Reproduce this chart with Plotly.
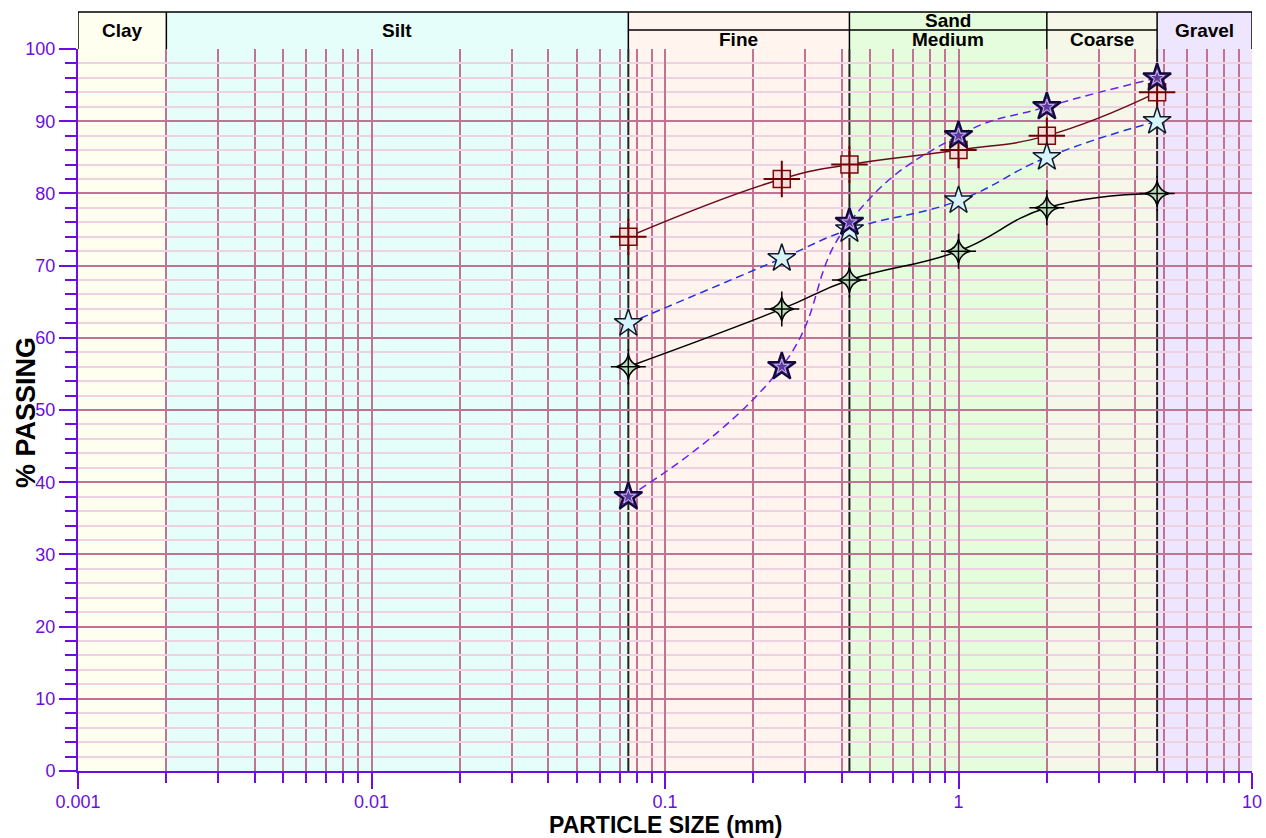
import math
import plotly.graph_objects as go

# ---------------- data ----------------
sizes_mm = [0.075, 0.25, 0.425, 1.0, 2.0, 4.75]
passing_square = [74, 82, 84, 86, 88, 94]
passing_light_star = [62, 71, 75, 79, 85, 90]
passing_dark_star = [38, 56, 76, 88, 92, 96]
passing_four_star = [56, 64, 68, 72, 78, 80]

# soil classification bands (mm)
band_names = ["Clay", "Silt", "Fine", "Medium", "Coarse", "Gravel"]
band_edges = [0.001, 0.002, 0.075, 0.425, 2.0, 4.75, 10.0]
band_colors = ["#FFFFF0", "#E6FEFA", "#FFF4EE", "#E5FDDD", "#F5F8E8", "#EEE5FF"]
sieve_lines = [0.075, 0.425, 4.75]

y_ticks = [0, 10, 20, 30, 40, 50, 60, 70, 80, 90, 100]
x_ticks = [0.001, 0.01, 0.1, 1, 10]
x_tick_text = ["0.001", "0.01", "0.1", "1", "10"]

# ---------------- styling ----------------
PURPLE = "#6A0FE0"
GRID_MAJOR = "#C27394"
GRID_MINOR = "#EFD2E2"
FONT = "Liberation Sans, Arial, sans-serif"
SMOOTH = 1.3

PLOT_H = 838 - 49 - 67
PLOT_W = 1266 - 78 - 14
H_TOP = 1.0 + 37 / PLOT_H   # header top (paper)
H_MID = 1.0 + 19 / PLOT_H   # sand sub-row divider (paper)

fig = go.Figure()

# series 1: squares with cross
fig.add_trace(go.Scatter(
    x=sizes_mm, y=passing_square, mode="lines",
    line=dict(color="#6E0A1E", width=1.5, shape="spline", smoothing=SMOOTH), hoverinfo="skip"))
fig.add_trace(go.Scatter(
    x=sizes_mm, y=passing_square, mode="markers",
    marker=dict(symbol="square", size=17, color="#F7DADA",
                line=dict(color="#7A0A0A", width=1.5))))
fig.add_trace(go.Scatter(
    x=sizes_mm, y=passing_square, mode="markers",
    marker=dict(symbol="cross-thin-open", size=26, color="#700000",
                line=dict(color="#700000", width=2))))

# series 2: light stars, blue dashed
fig.add_trace(go.Scatter(
    x=sizes_mm, y=passing_light_star, mode="lines",
    line=dict(color="#2233E6", width=1.5, shape="spline", smoothing=SMOOTH, dash="8px,5px"),
    hoverinfo="skip"))
fig.add_trace(go.Scatter(
    x=sizes_mm, y=passing_light_star, mode="markers",
    marker=dict(symbol="star", size=21, color="#D6F4FA",
                line=dict(color="#0E1A2A", width=1.5))))

# series 3: dark stars, purple dashed
fig.add_trace(go.Scatter(
    x=sizes_mm, y=passing_dark_star, mode="lines",
    line=dict(color="#6A1FF0", width=1.5, shape="spline", smoothing=SMOOTH, dash="8px,5px"),
    hoverinfo="skip"))
fig.add_trace(go.Scatter(
    x=sizes_mm, y=passing_dark_star, mode="markers",
    marker=dict(symbol="star", size=21, color="#5A3C9C",
                line=dict(color="#120A3A", width=2.2))))
fig.add_trace(go.Scatter(
    x=sizes_mm, y=passing_dark_star, mode="markers",
    marker=dict(symbol="star-open", size=11, color="#D8B8F0",
                line=dict(color="#D8B8F0", width=1))))

# series 4: four-point stars, black solid
fig.add_trace(go.Scatter(
    x=sizes_mm, y=passing_four_star, mode="lines",
    line=dict(color="#000000", width=1.5, shape="spline", smoothing=SMOOTH), hoverinfo="skip"))
fig.add_trace(go.Scatter(
    x=sizes_mm, y=passing_four_star, mode="markers",
    marker=dict(symbol="star-diamond", size=17, color="#BEDDBE",
                line=dict(color="#000000", width=1.5))))
fig.add_trace(go.Scatter(
    x=sizes_mm, y=passing_four_star, mode="markers",
    marker=dict(symbol="cross-thin-open", size=25, color="#000000",
                line=dict(color="#000000", width=1.5))))

for tr in fig.data:
    tr.update(showlegend=False, cliponaxis=False)

shapes = []
# band fills (plot area + header)
for i, c in enumerate(band_colors):
    shapes.append(dict(type="rect", xref="x", yref="paper",
                       x0=band_edges[i], x1=band_edges[i + 1], y0=0, y1=H_TOP,
                       fillcolor=c, line=dict(width=0), layer="below"))
# sieve boundary lines in plot
for s in sieve_lines:
    shapes.append(dict(type="line", xref="x", yref="paper", x0=s, x1=s, y0=0, y1=1,
                       line=dict(color="#222222", width=2), layer="between"))
# header frame
shapes.append(dict(type="line", xref="x", yref="paper", x0=band_edges[0], x1=band_edges[-1],
                   y0=H_TOP, y1=H_TOP, line=dict(color="black", width=1.5), layer="above"))
shapes.append(dict(type="line", xref="x", yref="paper", x0=band_edges[2], x1=band_edges[5],
                   y0=H_MID, y1=H_MID, line=dict(color="black", width=1.5), layer="above"))
for e in band_edges:
    shapes.append(dict(type="line", xref="x", yref="paper", x0=e, x1=e,
                       y0=1.0, y1=H_TOP, line=dict(color="black", width=1.5), layer="above"))

annotations = []
def center_log(a, b):
    return (math.log10(a) + math.log10(b)) / 2

hdr_font = dict(family=FONT, size=19, color="black")
for name, a, b in [("Clay", band_edges[0], band_edges[1]),
                   ("Silt", band_edges[1], band_edges[2]),
                   ("Gravel", band_edges[5], band_edges[6])]:
    annotations.append(dict(x=center_log(a, b), y=(1.0 + H_TOP) / 2, xref="x", yref="paper",
                            text=f"<b>{name}</b>", showarrow=False, font=hdr_font,
                            xanchor="center", yanchor="middle"))
for name, a, b in [("Fine", band_edges[2], band_edges[3]),
                   ("Medium", band_edges[3], band_edges[4]),
                   ("Coarse", band_edges[4], band_edges[5])]:
    annotations.append(dict(x=center_log(a, b), y=(1.0 + H_MID) / 2, xref="x", yref="paper",
                            text=f"<b>{name}</b>", showarrow=False, font=hdr_font,
                            xanchor="center", yanchor="middle"))
annotations.append(dict(x=center_log(band_edges[3], band_edges[4]), y=(H_MID + H_TOP) / 2,
                        xref="x", yref="paper", text="<b>Sand</b>", showarrow=False,
                        font=hdr_font, xanchor="center", yanchor="middle"))

# axis titles
annotations.append(dict(x=0.5, y=-54 / PLOT_H, xref="paper", yref="paper",
                        text="<b>PARTICLE SIZE (mm)</b>", showarrow=False,
                        font=dict(family=FONT, size=23, color="black"),
                        xanchor="center", yanchor="middle"))
annotations.append(dict(x=-52 / PLOT_W, y=(771 - 413) / PLOT_H, xref="paper", yref="paper",
                        text="<b>% PASSING</b>", showarrow=False, textangle=-90,
                        font=dict(family=FONT, size=27, color="black"),
                        xanchor="center", yanchor="middle"))

minor_x = [k * 10.0 ** e for e in range(-3, 1) for k in range(2, 10)]

fig.update_layout(
    width=1266, height=838,
    margin=dict(l=78, r=14, t=49, b=67),
    plot_bgcolor="white", paper_bgcolor="white",
    shapes=shapes, annotations=annotations,
    showlegend=False,
    font=dict(family=FONT),
    xaxis=dict(
        type="log", range=[-3, 1], automargin=False,
        tickmode="array", tickvals=x_ticks, ticktext=x_tick_text,
        ticks="outside", ticklen=16, tickwidth=2, tickcolor=PURPLE,
        ticklabelstandoff=-3,
        tickfont=dict(family=FONT, size=18, color=PURPLE),
        showgrid=True, gridcolor=GRID_MAJOR, gridwidth=2,
        minor=dict(tickmode="array", tickvals=minor_x, ticks="outside", ticklen=10,
                   tickwidth=2, tickcolor=PURPLE, showgrid=True,
                   gridcolor=GRID_MAJOR, gridwidth=2),
        showline=True, linecolor=PURPLE, linewidth=2, zeroline=False,
    ),
    yaxis=dict(
        range=[0, 100], tickmode="array", tickvals=y_ticks, automargin=False,
        ticks="outside", ticklen=17, tickwidth=2, tickcolor=PURPLE,
        tickfont=dict(family=FONT, size=18, color=PURPLE),
        showgrid=True, gridcolor=GRID_MAJOR, gridwidth=2,
        minor=dict(dtick=2, ticks="outside", ticklen=11, tickwidth=2,
                   tickcolor=PURPLE, showgrid=True, gridcolor=GRID_MINOR, gridwidth=2),
        showline=True, linecolor=PURPLE, linewidth=2, zeroline=False,
    ),
)

fig.write_html(
    "out.html",
    config={"displayModeBar": False},
    post_script="document.body.style.margin='0';document.body.style.overflow='hidden';",
)
